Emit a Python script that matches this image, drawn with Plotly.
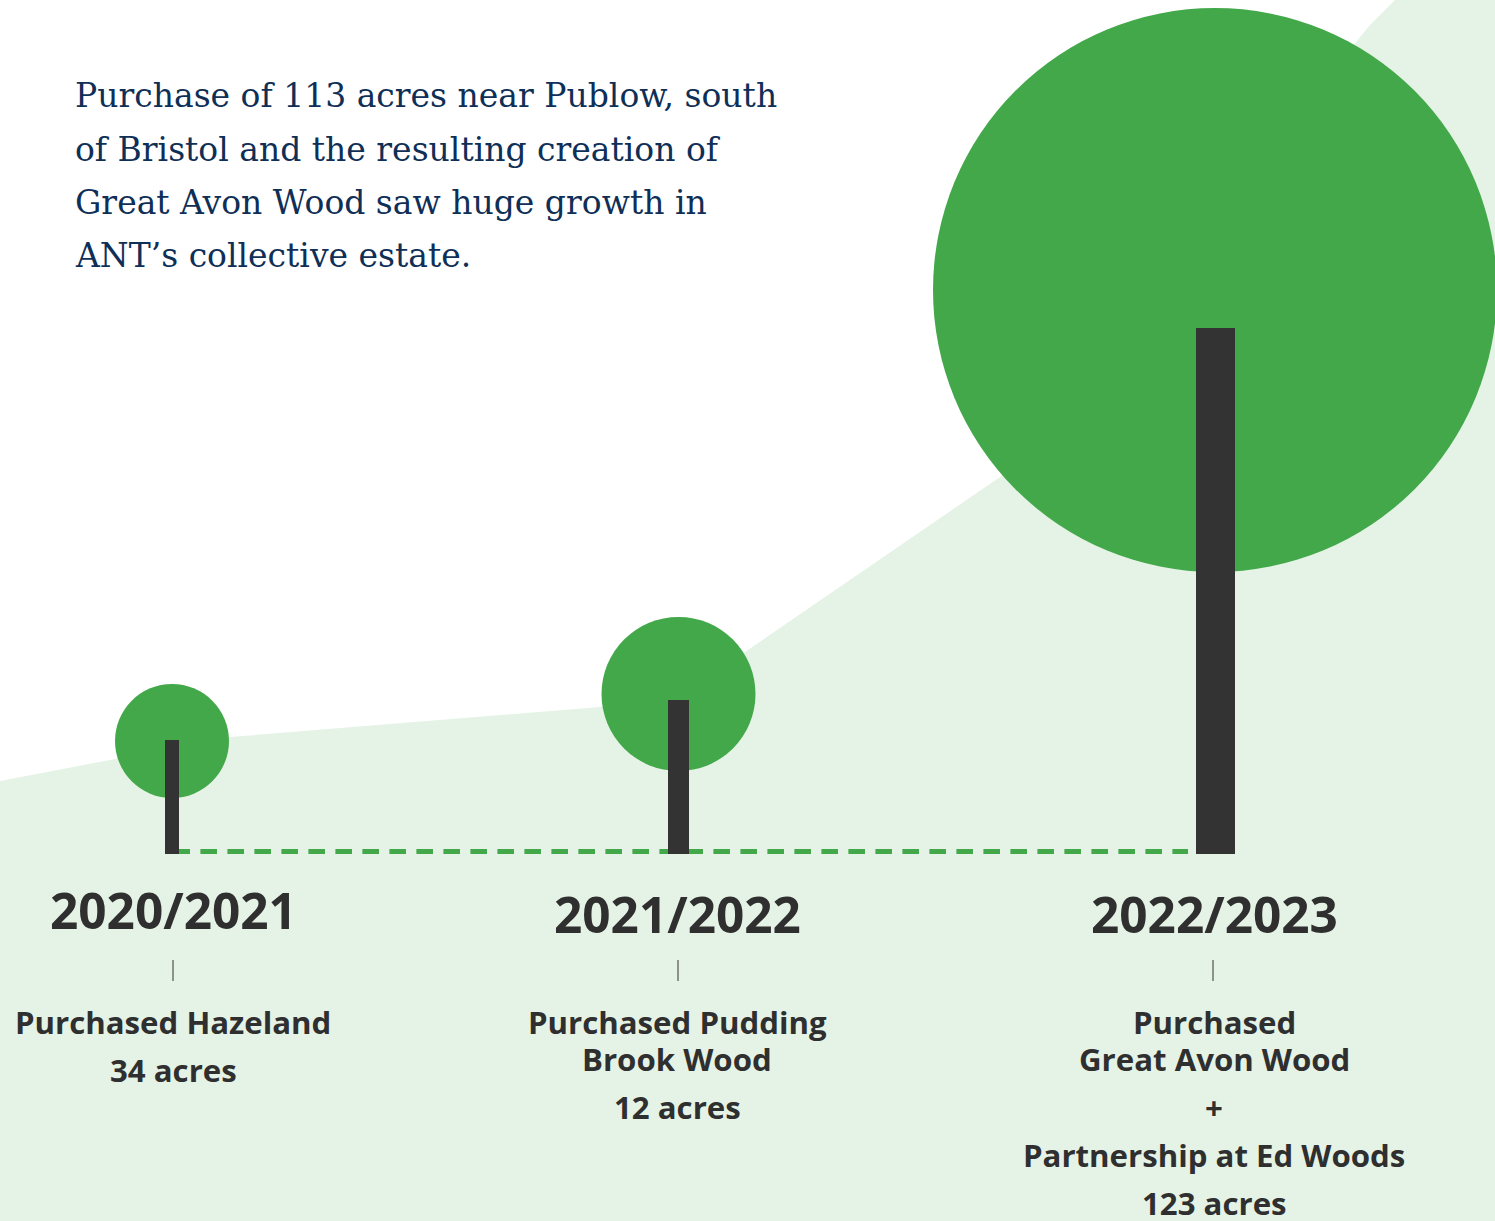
import plotly.graph_objects as go

# Canvas-space drawing: axes run in pixels of the 1495x1221 page
WIDTH, HEIGHT = 1495, 1221

years = ["2020/2021", "2021/2022", "2022/2023"]
tree_x = [172, 678.5, 1215.5]
trunk_top = [740, 700, 328]
trunk_width = [14, 21, 39]
crown_x = [172, 678.5, 1215]
crown_y = [741, 694, 290]
crown_diameter = [114, 154, 564]
ground_y = 854
dash_x = [173.4, 1188]
dash_y = [851.5, 851.5]
year_y = [909.5, 913.5, 913.5]
tick_x = [173, 678, 1213]
tick_top, tick_bottom = 960, 981
label_x = [173, 677, 1214]

hill_x = [0, 230, 600, 745, 1000, 1370, 1395, 1495, 1495, 0]
hill_y = [781, 737, 707, 652, 477, 25, 0, 0, 1221, 1221]

captions = [
    [("Purchased Hazeland", 1022), ("34 acres", 1070)],
    [("Purchased Pudding", 1022), ("Brook Wood", 1059), ("12 acres", 1107)],
    [("Purchased", 1022), ("Great Avon Wood", 1059), ("+", 1107),
     ("Partnership at Ed Woods", 1155), ("123 acres", 1203)],
]
intro_lines = [
    "Purchase of 113 acres near Publow, south",
    "of Bristol and the resulting creation of",
    "Great Avon Wood saw huge growth in",
    "ANT’s collective estate.",
]
intro_y = [95, 149, 202, 255]

GREEN = "#43a84a"
PALE = "#e5f3e6"
TRUNK = "#333333"
INK = "#2f2f2f"
NAVY = "#0f2f57"
SANS = "'Open Sans', 'Noto Sans', sans-serif"
SERIF = "'DejaVu Serif', serif"

fig = go.Figure()

fig.add_trace(go.Scatter(x=hill_x, y=hill_y, mode="lines", fill="toself",
                         fillcolor=PALE, line=dict(width=0), hoverinfo="skip"))

fig.add_trace(go.Scatter(x=dash_x, y=dash_y, mode="lines",
                         line=dict(color=GREEN, width=5, dash="16.6px 10.4px"),
                         hoverinfo="skip"))

fig.add_trace(go.Scatter(x=crown_x, y=crown_y, mode="markers", hoverinfo="skip",
                         marker=dict(size=crown_diameter, sizemode="diameter",
                                     color=GREEN, opacity=1, line=dict(width=0))))

fig.add_trace(go.Scatter(
    x=[v for t in tick_x for v in (t, t, None)],
    y=[v for _ in tick_x for v in (tick_top, tick_bottom, None)],
    mode="lines", line=dict(color="#333333", width=1), hoverinfo="skip"))

# Trunks sit on an overlaid axis pair so they paint above the crowns
fig.add_trace(go.Bar(x=tree_x, base=trunk_top,
                     y=[ground_y - t for t in trunk_top], width=trunk_width,
                     marker=dict(color=TRUNK, line=dict(width=0)),
                     xaxis="x2", yaxis="y2", hoverinfo="skip"))

for x, y, year in zip(label_x, year_y, years):
    fig.add_annotation(x=x, y=y, text=f"<b>{year}</b>", showarrow=False,
                       font=dict(family=SANS, size=49.5, color=INK))

for x, lines in zip(label_x, captions):
    for text, y in lines:
        fig.add_annotation(x=x, y=y, text=f"<b>{text}</b>", showarrow=False,
                           font=dict(family=SANS, size=31.2, color=INK))

for text, y in zip(intro_lines, intro_y):
    fig.add_annotation(x=73, y=y, text=text, showarrow=False, xanchor="left",
                       font=dict(family=SERIF, size=33, color=NAVY))

fig.update_layout(
    width=WIDTH, height=HEIGHT, margin=dict(l=0, r=0, t=0, b=0),
    paper_bgcolor="white", plot_bgcolor="white", showlegend=False,
    xaxis=dict(range=[0, WIDTH], visible=False, fixedrange=True),
    yaxis=dict(range=[HEIGHT, 0], visible=False, fixedrange=True),
    xaxis2=dict(range=[0, WIDTH], visible=False, fixedrange=True,
                overlaying="x", matches="x"),
    yaxis2=dict(range=[HEIGHT, 0], visible=False, fixedrange=True,
                overlaying="y", matches="y"),
)

fig.write_html("out.html", config=dict(displayModeBar=False))
